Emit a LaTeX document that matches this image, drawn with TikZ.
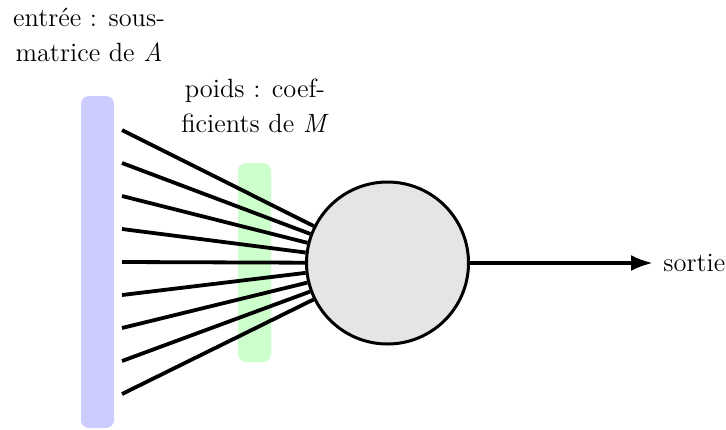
\documentclass[tikz,border=0pt]{standalone}
\usetikzlibrary{arrows.meta}
\begin{document}
\begin{tikzpicture}[x=0.5pt,y=-0.5pt,
  lbl/.style={font=\fontsize{13.2pt}{17.5pt}\selectfont, align=center, inner sep=0pt},
  conn/.style={line width=1.9pt},
  bar/.style={rounded corners=4pt, inner sep=0pt, minimum width=16.5pt}]
\useasboundingbox (0,0) rectangle (726,429);
\node[bar, fill=blue!20, minimum height=166pt] (inbar) at (97.5,262) {};
\node[bar, fill=green!20, minimum height=99.5pt] (wbar) at (254.5,262.5) {};
\node[circle, draw, fill=gray!20, line width=1.5pt, inner sep=0pt, minimum size=81pt] (neuron) at (387.5,263) {};
\foreach \i in {0,...,8} {
  \coordinate (in\i) at (122,{130+33*\i});
  \draw[conn] (in\i) -- (neuron);
}
\node[lbl, anchor=west] (out) at (663,263) {sortie};
\draw[conn, -{Latex[length=11pt,width=8pt]}, shorten >=5pt] (neuron) -- (out);
\node[lbl] (lblA) at (89,35) {entrée : sous-\\matrice de \textit{A}};
\node[lbl] (lblM) at (255,106) {poids : coef-\\ficients de \textit{M}};
\end{tikzpicture}
\end{document}
